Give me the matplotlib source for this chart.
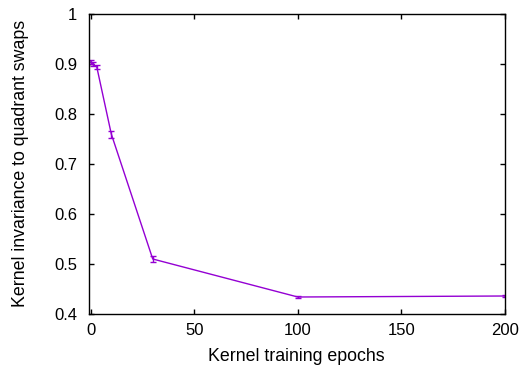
import matplotlib
matplotlib.use('Agg')
import matplotlib.pyplot as plt

# kernel invariance vs training epochs
epochs = [0, 1, 3, 10, 30, 100, 200]
invariance = [0.903, 0.899, 0.893, 0.759, 0.509, 0.433, 0.435]
err = [0.004, 0.004, 0.004, 0.007, 0.006, 0.002, 0.002]

plt.rcParams['font.family'] = ['Liberation Sans', 'DejaVu Sans']
plt.rcParams['font.size'] = 12

fig = plt.figure(figsize=(5.22, 3.73), dpi=100)
ax = fig.add_axes([88.5 / 522, 1 - 313.5 / 373, 416.5 / 522, 300 / 373])

ax.errorbar(epochs, invariance, yerr=err, color='#9400d3', lw=1,
            capsize=2.5, elinewidth=1, capthick=1)

ax.set_xlim(-1, 200)
ax.set_ylim(0.4, 1)
ax.set_xticks([0, 50, 100, 150, 200])
ax.set_yticks([0.4, 0.5, 0.6, 0.7, 0.8, 0.9, 1])
ax.set_yticklabels(['0.4', '0.5', '0.6', '0.7', '0.8', '0.9', '1'])
ax.tick_params(direction='in', top=True, right=True, length=3.5, width=1)
ax.tick_params(axis='x', pad=7)
ax.tick_params(axis='y', pad=8)
for s in ax.spines.values():
    s.set_linewidth(1)

ax.set_xlabel('Kernel training epochs', labelpad=7, fontsize=12.8)
ax.set_ylabel('Kernel invariance to quadrant swaps', labelpad=18, fontsize=12.8)

fig.savefig('out.png', dpi=100)
